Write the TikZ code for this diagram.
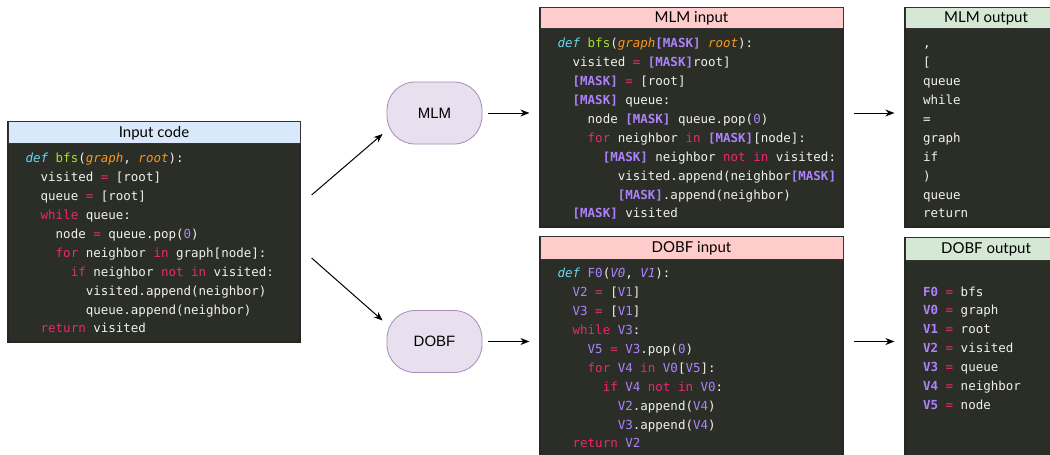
\documentclass[tikz,border=0pt]{standalone}
\usepackage{fontspec}
\setmainfont{Lato}
\newfontfamily\codefont{DejaVu Sans Mono}
\newfontfamily\helv{Liberation Sans}
\usetikzlibrary{positioning,arrows.meta}

\definecolor{codebg}{HTML}{2A2E26}
\definecolor{codefg}{HTML}{F2F2EC}
\definecolor{kwpink}{HTML}{F02672}
\definecolor{defcyan}{HTML}{66D9EF}
\definecolor{fngreen}{HTML}{A6E22E}
\definecolor{parorange}{HTML}{FD971F}
\definecolor{numpurple}{HTML}{AE81FF}
\definecolor{tblue}{HTML}{DAE8FC}
\definecolor{tpink}{HTML}{FFCCCC}
\definecolor{tgreen}{HTML}{D5E8D4}
\definecolor{modelfill}{HTML}{E8E0EE}
\definecolor{modeldraw}{HTML}{A88BB8}

% code colouring
\newcommand{\kw}[1]{\textcolor{kwpink}{#1}}
\newcommand{\df}[1]{\textcolor{defcyan}{\itshape #1}}
\newcommand{\fn}[1]{\textcolor{fngreen}{#1}}
\newcommand{\pa}[1]{\textcolor{parorange}{\itshape #1}}
\newcommand{\nm}[1]{\textcolor{numpurple}{#1}}
\newcommand{\mk}{\textcolor{numpurple}{\bfseries [MASK]}}
\newcommand{\vv}[1]{\textcolor{numpurple}{#1}}
\newcommand{\pv}[1]{\textcolor{numpurple}{\itshape #1}}
\newcommand{\vb}[1]{\textcolor{numpurple}{\bfseries #1}}
\newcommand{\ii}{\phantom{xx}}

\tikzset{
  box/.style={draw=black!85, line width=1.2pt, fill=codebg, inner sep=0pt},
  titlebar/.style={draw=black!80, line width=0.8pt, inner sep=0pt, anchor=north, font=\fontsize{15}{17}\selectfont},
  model/.style={draw=modeldraw, line width=0.8pt, fill=modelfill, rounded corners=28pt, minimum width=95pt, minimum height=62pt, font=\helv\fontsize{15}{17}\selectfont},
  code/.style={text=codefg, align=left, inner sep=0pt, anchor=base west, font=\codefont\fontsize{12.5}{18.9}\selectfont},
  arr/.style={-{Stealth[length=9pt,width=7pt]}, line width=1pt},
}

\begin{document}
\begin{tikzpicture}[x=1pt,y=-1pt]
\useasboundingbox (0,0) rectangle (1050,455);
\clip (0,0) rectangle (1050,455);

% boxes
\node[box, minimum width=292pt, minimum height=220pt] (incode) at (154,232) {};
\node[box, minimum width=303pt, minimum height=219pt] (mlmin) at (691.5,117.5) {};
\node[box, minimum width=303pt, minimum height=238pt] (dobfin) at (691.5,356) {};
\node[box, minimum width=162pt, minimum height=219pt] (mlmout) at (986,117.5) {};
\node[box, minimum width=162pt, minimum height=237pt] (dobfout) at (986,356.5) {};

% titles
\node[titlebar, fill=tblue, minimum width=292pt, minimum height=22pt] (intitle) at (incode.north) {Input code};
\node[titlebar, fill=tpink, minimum width=303pt, minimum height=21pt] (mlmintitle) at (mlmin.north) {MLM input};
\node[titlebar, fill=tpink, minimum width=303pt, minimum height=23pt] (dobfintitle) at (dobfin.north) {DOBF input};
\node[titlebar, fill=tgreen, minimum width=162pt, minimum height=21pt] (mlmouttitle) at (mlmout.north) {MLM output};
\node[titlebar, fill=tgreen, minimum width=162pt, minimum height=23pt] (dobfouttitle) at (dobfout.north) {DOBF output};

% code (anchored at the baseline of the last line)
\node[code] (inlines) at ([shift={(18pt,-211.5pt)}]incode.north west) {%
\df{def} \fn{bfs}(\pa{graph}, \pa{root}):\\
\ii visited \kw{=} [root]\\
\ii queue \kw{=} [root]\\
\ii \kw{while} queue:\\
\ii\ii node \kw{=} queue.pop(\nm{0})\\
\ii\ii \kw{for} neighbor \kw{in} graph[node]:\\
\ii\ii\ii \kw{if} neighbor \kw{not} \kw{in} visited:\\
\ii\ii\ii\ii visited.append(neighbor)\\
\ii\ii\ii\ii queue.append(neighbor)\\
\ii \kw{return} visited};

\node[code] (mlminlines) at ([shift={(18pt,-210.5pt)}]mlmin.north west) {%
\df{def} \fn{bfs}(\pa{graph}\mk{} \pa{root}):\\
\ii visited \kw{=} \mk{}root]\\
\ii \mk{} \kw{=} [root]\\
\ii \mk{} queue:\\
\ii\ii node \mk{} queue.pop(\nm{0})\\
\ii\ii \kw{for} neighbor \kw{in} \mk{}[node]:\\
\ii\ii\ii \mk{} neighbor \kw{not} \kw{in} visited:\\
\ii\ii\ii\ii visited.append(neighbor\mk{}\\
\ii\ii\ii\ii \mk{}.append(neighbor)\\
\ii \mk{} visited};

\node[code] (dobfinlines) at ([shift={(18pt,-211.5pt)}]dobfin.north west) {%
\df{def} \vv{F0}(\pv{V0}, \pv{V1}):\\
\ii \vv{V2} \kw{=} [\vv{V1}]\\
\ii \vv{V3} \kw{=} [\vv{V1}]\\
\ii \kw{while} \vv{V3}:\\
\ii\ii \vv{V5} \kw{=} \vv{V3}.pop(\nm{0})\\
\ii\ii \kw{for} \vv{V4} \kw{in} \vv{V0}[\vv{V5}]:\\
\ii\ii\ii \kw{if} \vv{V4} \kw{not} \kw{in} \vv{V0}:\\
\ii\ii\ii\ii \vv{V2}.append(\vv{V4})\\
\ii\ii\ii\ii \vv{V3}.append(\vv{V4})\\
\ii \kw{return} \vv{V2}};

\node[code] (mlmoutlines) at ([shift={(18.5pt,-210.5pt)}]mlmout.north west) {%
,\\ {[}\\ queue\\ while\\ =\\ graph\\ if\\ )\\ queue\\ return};

\node[code] (dobfoutlines) at ([shift={(18.5pt,-172pt)}]dobfout.north west) {%
\vb{F0} \kw{=} bfs\\
\vb{V0} \kw{=} graph\\
\vb{V1} \kw{=} root\\
\vb{V2} \kw{=} visited\\
\vb{V3} \kw{=} queue\\
\vb{V4} \kw{=} neighbor\\
\vb{V5} \kw{=} node};

% models
\node[model] (mlm) at (434.5,113) {MLM};
\node[model] (dobf) at (434.5,341.5) {DOBF};

% arrows
\draw[arr] ([shift={(11pt,37pt)}]incode.east) -- ([shift={(-4pt,-21pt)}]mlm.west);
\draw[arr] ([shift={(11pt,-26pt)}]incode.east) -- ([shift={(-4pt,21pt)}]dobf.west);
\draw[arr] ([xshift=6pt]mlm.east) -- ([xshift=-10pt]mlm.east -| mlmin.west);
\draw[arr] ([xshift=6pt]dobf.east) -- ([xshift=-10pt]dobf.east -| dobfin.west);
\draw[arr] ([xshift=10pt]mlmin.east |- mlm.east) -- ([xshift=-10pt]mlmout.west |- mlm.east);
\draw[arr] ([xshift=10pt]dobfin.east |- dobf.east) -- ([xshift=-10pt]dobfout.west |- dobf.east);
\end{tikzpicture}
\end{document}
